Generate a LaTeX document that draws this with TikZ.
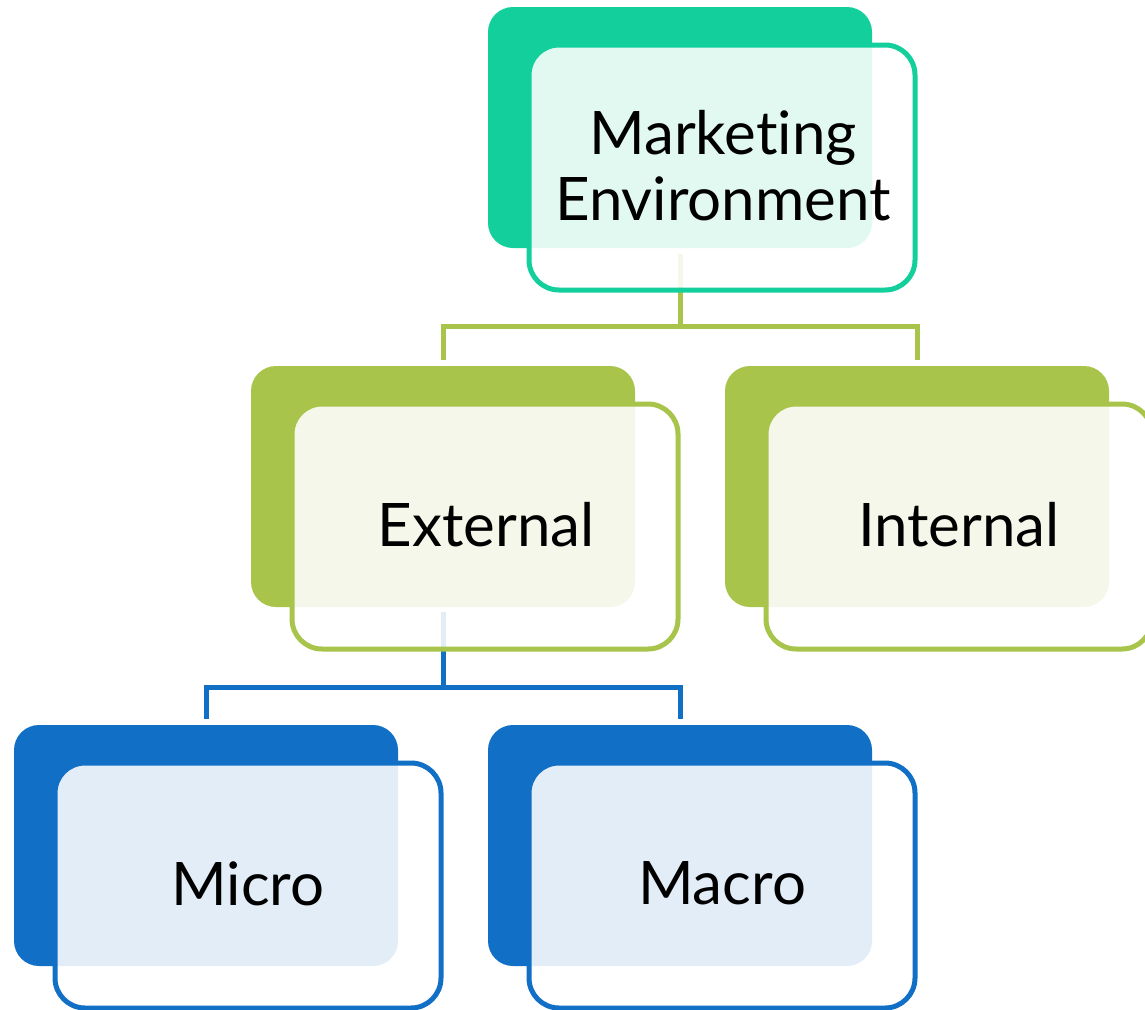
\documentclass[tikz,border=0pt]{standalone}
\usepackage{fontspec}
\setmainfont{Lato}[Ligatures=NoCommon]
\usetikzlibrary{positioning}

\definecolor{mint}{HTML}{12CF9C}
\definecolor{olive}{HTML}{A8C44B}
\definecolor{azure}{HTML}{1170C5}

\tikzset{
  backbox/.style={rectangle, rounded corners=25pt, minimum width=384pt,
    minimum height=241pt, inner sep=0pt, outer sep=0pt, draw=none, fill=#1},
  frontbox/.style={rectangle, rounded corners=30pt, minimum width=386pt,
    minimum height=245pt, inner sep=0pt, outer sep=0pt, line width=5pt,
    draw=#1, fill=white, fill opacity=0.88, text opacity=1},
  label/.style={align=center, font=\fontsize{60}{66}\selectfont, text=black},
  link/.style={line width=5pt, draw=#1}
}

% solid back card of a tier box
\newcommand\tierbox[4]{%
  \node[backbox=#4] (#1b) at (#2,#3) {};
}
% translucent framed front card and its label
\newcommand\tierfront[6]{%
  \node[frontbox=#4] (#1f) at (#2+42,#3+40) {};
  \node[label] (#1t) at (#2+42+#6,#3+38) {#5};
}

\begin{document}
\begin{tikzpicture}[x=1pt,y=-1pt]
  \useasboundingbox (0,0) rectangle (1145,1009);

  % back cards
  \tierbox{top}{680}{127.5}{mint}
  \tierbox{ext}{443}{486.5}{olive}
  \tierbox{int}{917}{486.5}{olive}
  \tierbox{mic}{206}{845.5}{azure}
  \tierbox{mac}{680}{845.5}{azure}

  % connectors
  \path (topb.south) ++(0,78) coordinate (j1);
  \path (extb.south) ++(0,80) coordinate (j2);
  \draw[link=olive] ([yshift=-6pt]topb.south) -- (j1);
  \draw[link=olive] ([yshift=6pt]extb.north) |- (j1) -| ([yshift=6pt]intb.north);
  \draw[link=azure] ([yshift=-5pt]extb.south) -- (j2);
  \draw[link=azure] ([yshift=6pt]micb.north) |- (j2) -| ([yshift=6pt]macb.north);

  % front cards with labels
  \tierfront{top}{680}{127.5}{mint}{Marketing\\Environment}{1}
  \tierfront{ext}{443}{486.5}{olive}{External}{1}
  \tierfront{int}{917}{486.5}{olive}{Internal}{0}
  \tierfront{mic}{206}{845.5}{azure}{Micro}{0}
  \tierfront{mac}{680}{845.5}{azure}{Macro}{0}
\end{tikzpicture}
\end{document}
